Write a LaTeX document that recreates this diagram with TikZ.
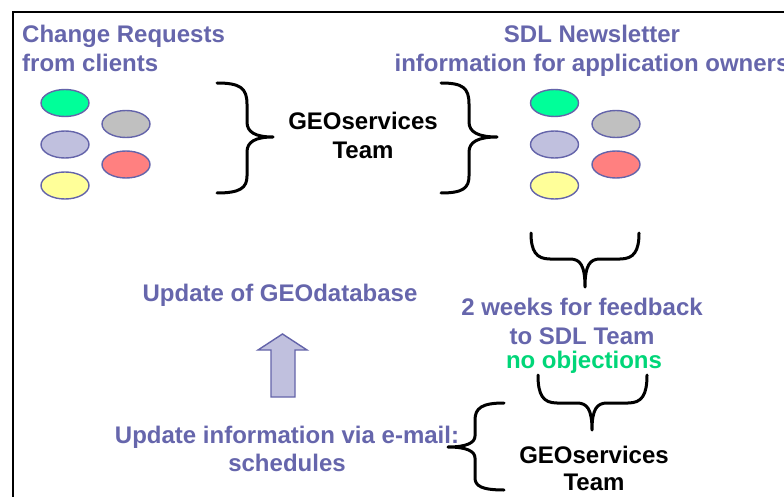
\documentclass[tikz,border=0pt]{standalone}
\usepackage{fontspec}
\setmainfont{Liberation Sans}
\usetikzlibrary{shapes.geometric}

\definecolor{txtblue}{RGB}{102,102,172}
\definecolor{txtgreen}{RGB}{0,214,120}
\definecolor{edgeblue}{RGB}{100,100,170}
\definecolor{cgreen}{RGB}{0,255,153}
\definecolor{cgray}{RGB}{192,192,192}
\definecolor{clav}{RGB}{192,192,222}
\definecolor{cred}{RGB}{255,128,128}
\definecolor{cyellow}{RGB}{255,255,153}

\tikzset{
  lbl/.style={inner sep=0pt, font=\fontsize{24}{29}\selectfont\bfseries},
  bluelbl/.style={lbl, text=txtblue},
  blacklbl/.style={lbl, text=black},
  greenlbl/.style={lbl, text=txtgreen},
  blob/.style={ellipse, draw=edgeblue, line width=1.4pt, minimum width=48pt, minimum height=27pt, inner sep=0pt},
  curly/.style={draw=black, line width=3pt, line cap=round, line join=round},
  frameline/.style={draw=black, line width=2.6pt}
}

\begin{document}
\begin{tikzpicture}[x=1pt, y=-1pt]
\useasboundingbox (0,0) rectangle (784,497);
\clip (0,0) rectangle (784,497);
\fill[white] (0,0) rectangle (784,497);

% outer frame (runs off the bottom and right edges)
\draw[frameline] (13,510) -- (13,12) -- (800,12);

% headings
\node[bluelbl, anchor=base west] (crq1) at (22,42.5) {Change Requests};
\node[bluelbl, anchor=base west] (crq2) at (22,71.5) {from clients};
\node[bluelbl, anchor=base] (sdl1) at (592,42.5) {SDL Newsletter};
\node[bluelbl, anchor=base] (sdl2) at (592,71.5) {information for application owners};

% change request blobs, left group
\node[blob, fill=cgreen]  (la) at (65,103) {};
\node[blob, fill=cgray]   (lb) at (126,124) {};
\node[blob, fill=clav]    (lc) at (65,144.5) {};
\node[blob, fill=cred]    (ld) at (126,164.5) {};
\node[blob, fill=cyellow] (le) at (65,185.5) {};

% newsletter blobs, right group
\node[blob, fill=cgreen]  (ra) at (554.5,103) {};
\node[blob, fill=cgray]   (rb) at (616,124) {};
\node[blob, fill=clav]    (rc) at (554.5,144.5) {};
\node[blob, fill=cred]    (rd) at (616,164.5) {};
\node[blob, fill=cyellow] (re) at (554.5,185.5) {};

% team in the middle
\node[blacklbl, anchor=base] (geo1) at (363,130) {GEOservices};
\node[blacklbl, anchor=base] (geo2) at (363,159) {Team};

% brace gathering the requests
\path[curly] (217,83) .. controls (240,83) and (247,88) .. (247,104)
  -- (247,122) .. controls (247,132) and (255,137) .. (273,137)
  .. controls (255,137) and (247,142) .. (247,152)
  -- (247,176) .. controls (247,188) and (240,193) .. (217,193);

% brace towards the newsletter
\path[curly] (441,83) .. controls (463,83) and (469,88) .. (469,104)
  -- (469,122) .. controls (469,132) and (478,137) .. (497,137)
  .. controls (478,137) and (469,142) .. (469,152)
  -- (469,176) .. controls (469,188) and (463,193) .. (441,193);

% brace under the newsletter blobs
\path[curly] (531,233) .. controls (531,251) and (536,259) .. (550,259)
  -- (570,259) .. controls (580,259) and (585,265) .. (585,287)
  .. controls (585,265) and (590,259) .. (600,259)
  -- (620,259) .. controls (634,259) and (639,251) .. (639,233);

% feedback period
\node[bluelbl, anchor=base] (fb1) at (582,315) {2 weeks for feedback};
\node[bluelbl, anchor=base] (fb2) at (582,344) {to SDL Team};
\node[greenlbl, anchor=base] (fb3) at (584,368) {no objections};

% brace under the feedback text
\path[curly] (538,375) .. controls (538,395) and (543,403) .. (557,403)
  -- (577,403) .. controls (587,403) and (592,409) .. (592,430)
  .. controls (592,409) and (597,403) .. (607,403)
  -- (628,403) .. controls (642,403) and (647,395) .. (647,375);

% team at the bottom
\node[blacklbl, anchor=base] (geo3) at (594,463) {GEOservices};
\node[blacklbl, anchor=base] (geo4) at (594,490) {Team};

% brace pointing back to the e-mail update
\path[curly] (504,403) .. controls (482,403) and (475,408) .. (475,420)
  -- (475,436) .. controls (475,443) and (466,447) .. (448,447)
  .. controls (466,447) and (475,451) .. (475,458)
  -- (475,478) .. controls (475,486) and (482,490) .. (504,490);

% e-mail update and database update
\node[bluelbl, anchor=base] (upd1) at (287,443) {Update information via e-mail:};
\node[bluelbl, anchor=base] (upd2) at (287,471) {schedules};
\node[bluelbl, anchor=base] (gdb) at (280,301) {Update of GEOdatabase};

% block arrow up to the database update
\filldraw[fill=clav, draw=edgeblue, line width=1.4pt, line join=miter]
  (271,397) -- (271,350) -- (258,350) -- (282.5,334) -- (307,350)
  -- (295,350) -- (295,397) -- cycle;
\end{tikzpicture}
\end{document}
